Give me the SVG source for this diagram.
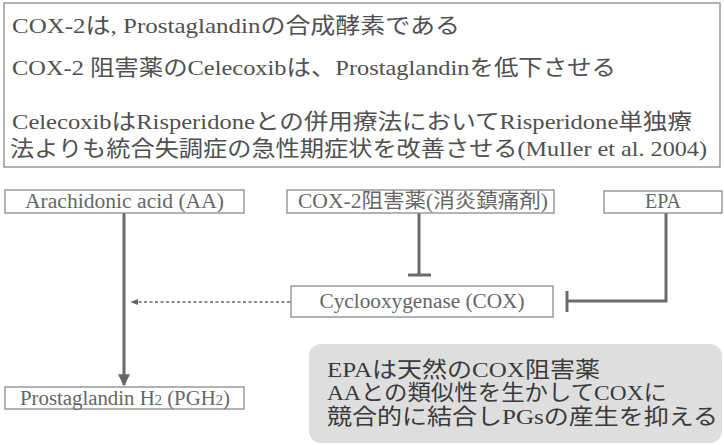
<svg xmlns="http://www.w3.org/2000/svg" width="724" height="445" viewBox="0 0 724 445">
<defs>
<style>
text{font-family:"Liberation Serif","Noto Sans CJK JP",serif;}
.top{font-size:22px;fill:#505050;}
.box{fill:#fff;stroke:#8a8a8a;stroke-width:1.3;}
.lbl{font-size:20px;fill:#666;text-anchor:middle;}
.note{font-size:22px;fill:#3a3a3a;}
.ln{stroke:#6a6a6a;stroke-width:3;fill:none;}
</style>
<marker id="ah" viewBox="0 0 10 10" refX="9" refY="5" markerWidth="4" markerHeight="4" orient="auto"><path d="M0,0 L10,5 L0,10 z" fill="#666"/></marker>
<marker id="ahs" viewBox="0 0 10 10" refX="9" refY="5" markerWidth="6" markerHeight="6" orient="auto"><path d="M0,1 L10,5 L0,9 z" fill="#666"/></marker>
</defs>
<rect width="724" height="445" fill="#fff"/>
<g id="summary">
<rect class="box" x="4" y="3" width="716" height="164"/>
<text class="top" x="12" y="33" textLength="448" lengthAdjust="spacingAndGlyphs">COX-2は, Prostaglandinの合成酵素である</text>
<text class="top" x="12" y="75" textLength="604" lengthAdjust="spacingAndGlyphs">COX-2 阻害薬のCelecoxibは、Prostaglandinを低下させる</text>
<text class="top" x="12" y="129" textLength="680" lengthAdjust="spacingAndGlyphs">CelecoxibはRisperidoneとの併用療法においてRisperidone単独療</text>
<text class="top" x="10" y="156" textLength="697" lengthAdjust="spacingAndGlyphs">法よりも統合失調症の急性期症状を改善させる(Muller et al. 2004)</text>
</g>
<g id="connectors">
<line class="ln" x1="124" y1="213" x2="124" y2="385" marker-end="url(#ah)"/>
<line x1="290" y1="302" x2="131" y2="302" stroke="#666" stroke-width="1.3" stroke-dasharray="3,2.5" marker-end="url(#ahs)"/>
<line class="ln" x1="419" y1="213" x2="419" y2="275"/>
<line class="ln" x1="408" y1="275" x2="431" y2="275"/>
<polyline class="ln" points="666,213 666,301 567,301"/>
<line class="ln" x1="567" y1="291" x2="567" y2="312"/>
</g>
<g id="aa">
<rect class="box" x="5" y="190" width="239" height="23"/>
<text class="lbl" x="124.5" y="208" textLength="199" lengthAdjust="spacingAndGlyphs">Arachidonic acid (AA)</text>
</g>
<g id="cox2inh">
<rect class="box" x="287" y="190" width="267" height="23"/>
<text class="lbl" x="423" y="208" textLength="250" lengthAdjust="spacingAndGlyphs">COX-2阻害薬(消炎鎮痛剤)</text>
</g>
<g id="epa">
<rect class="box" x="604" y="191" width="118" height="22"/>
<text class="lbl" x="663" y="208">EPA</text>
</g>
<g id="cox">
<rect class="box" x="291" y="286" width="262" height="31"/>
<text class="lbl" x="422" y="308" textLength="205" lengthAdjust="spacingAndGlyphs">Cyclooxygenase (COX)</text>
</g>
<g id="pgh2">
<rect class="box" x="5" y="387" width="239" height="22"/>
<text class="lbl" x="125" y="405" textLength="210" lengthAdjust="spacingAndGlyphs">Prostaglandin H<tspan font-size="14">2</tspan> (PGH<tspan font-size="14">2</tspan>)</text>
</g>
<g id="epanote">
<rect x="309" y="344" width="413" height="99" rx="12" fill="#dedede"/>
<text class="note" x="327" y="377" textLength="273" lengthAdjust="spacingAndGlyphs">EPAは天然のCOX阻害薬</text>
<text class="note" x="327" y="400" textLength="340" lengthAdjust="spacingAndGlyphs">AAとの類似性を生かしてCOXに</text>
<text class="note" x="327" y="424" textLength="391" lengthAdjust="spacingAndGlyphs">競合的に結合しPGsの産生を抑える</text>
</g>
</svg>
